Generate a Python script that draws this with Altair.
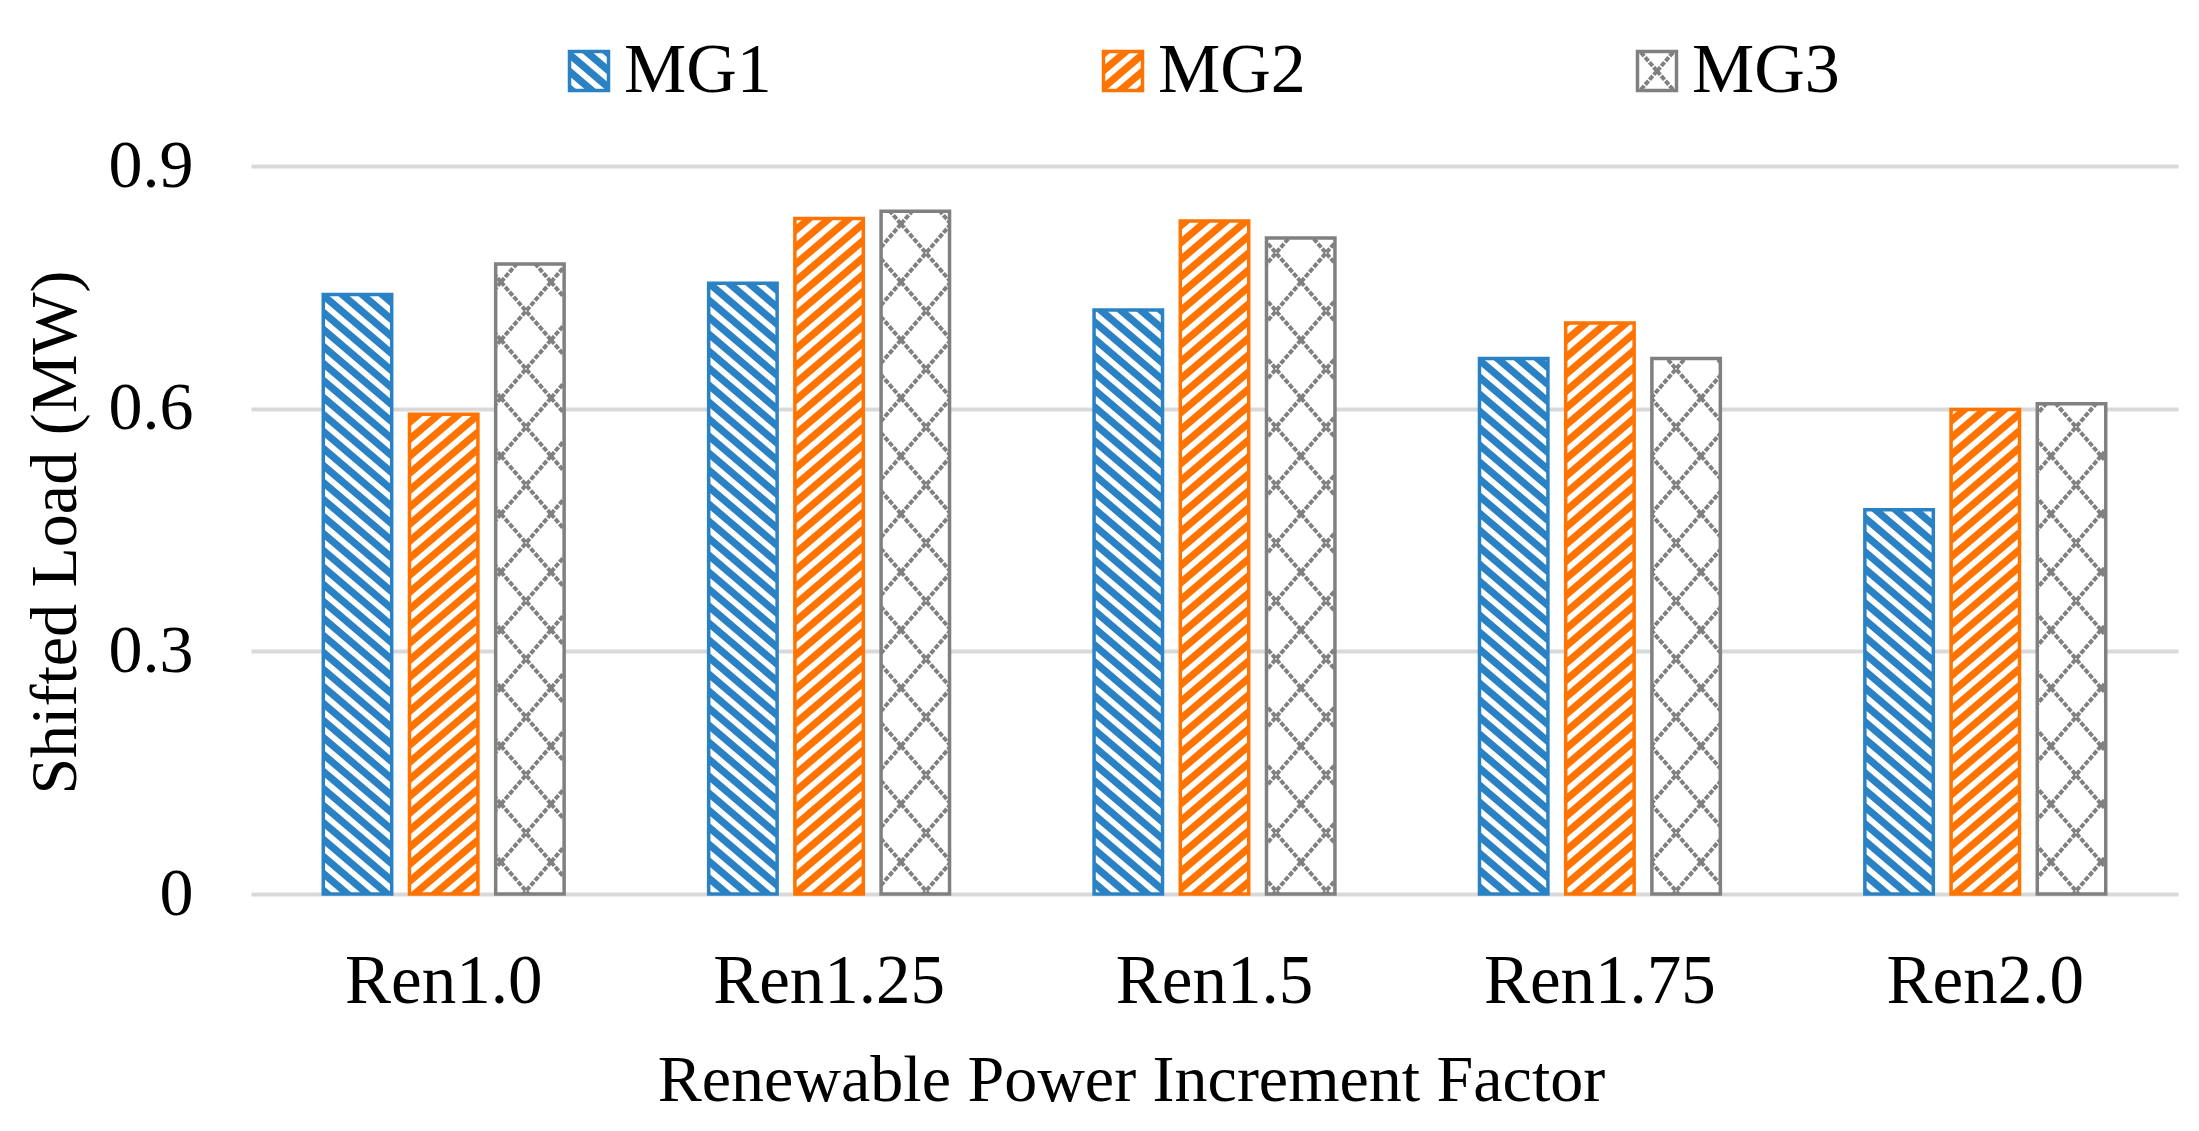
import altair as alt
import pandas as pd

# ---- data ----
categories = ["Ren1.0", "Ren1.25", "Ren1.5", "Ren1.75", "Ren2.0"]
series = ["MG1", "MG2", "MG3"]
mg1 = [0.741, 0.755, 0.722, 0.662, 0.475]
mg2 = [0.593, 0.835, 0.832, 0.706, 0.599]
mg3 = [0.779, 0.844, 0.811, 0.662, 0.606]
y_ticks = [0, 0.3, 0.6, 0.9]

stroke_colors = ["#2A82C4", "#FF7300", "#808080"]
fill_patterns = ["url(#patMG1)", "url(#patMG2)", "url(#patMG3)"]

rows = []
for s, vals in zip(series, [mg1, mg2, mg3]):
    for c, v in zip(categories, vals):
        rows.append({"Category": c, "Series": s, "Value": v})
df = pd.DataFrame(rows)

FONT = "Liberation Serif"

legend = alt.Legend(
    title=None, orient="none", legendX=303, legendY=-130, direction="horizontal",
    symbolType="square", symbolSize=1521, symbolStrokeWidth=3.5,
    labelFont=FONT, labelFontSize=70, labelColor="#000000", labelOffset=0,
    columnPadding=316, padding=0, labelLimit=400,
)

chart = alt.Chart(df).mark_bar(strokeWidth=3.5).encode(
    x=alt.X(
        "Category:N", sort=categories,
        scale=alt.Scale(paddingInner=0.375, paddingOuter=0.1875),
        axis=alt.Axis(
            title="Renewable Power Increment Factor", labelAngle=0,
            labelFont=FONT, labelFontSize=69, labelColor="#000000", labelLimit=500,
            labelBaseline="alphabetic", labelPadding=108,
            ticks=False, domain=False, grid=False,
            titleFont=FONT, titleFontSize=66, titleFontWeight="normal", titleColor="#000000",
            titleX=880, titleY=206, titleBaseline="alphabetic", titleAlign="center",
            titleLimit=2000,
        ),
    ),
    xOffset=alt.XOffset("Series:N", sort=series,
                        scale=alt.Scale(paddingInner=0.206, paddingOuter=0.0)),
    y=alt.Y(
        "Value:Q",
        scale=alt.Scale(domain=[0, 0.9], nice=False),
        axis=alt.Axis(
            title="Shifted Load (MW)", values=y_ticks,
            labelExpr="datum.value == 0 ? '0' : format(datum.value, '.1f')",
            labelFont=FONT, labelFontSize=68, labelColor="#000000",
            labelPadding=58, labelBaseline="middle",
            ticks=False, domain=False, grid=True,
            gridColor="#D9D9D9", gridWidth=4,
            titleFont=FONT, titleFontSize=66, titleFontWeight="normal", titleColor="#000000",
            titleAngle=270, titleX=-176, titleY=366,
            titleBaseline="alphabetic", titleAlign="center", titleLimit=2000,
        ),
    ),
    fill=alt.Fill("Series:N", scale=alt.Scale(domain=series, range=fill_patterns), legend=legend),
    stroke=alt.Stroke("Series:N", scale=alt.Scale(domain=series, range=stroke_colors), legend=legend),
).properties(
    width=1927, height=728,
    autosize=alt.AutoSizeParams(type="none"),
    padding={"left": 243, "top": 158, "right": 10, "bottom": 224},
).configure(font=FONT).configure_view(stroke=None)

# hatch patterns referenced by the bar fills
W1, H1 = 20, 17
def stripes(color, mirror, q=0.28):
    w, h = W1, H1
    polys = [
        [(0, 0), (q * w, 0), (w, (1 - q) * h), (w, h), ((1 - q) * w, h), (0, q * h)],
        [((1 - q) * w, 0), (w, 0), (w, q * h)],
        [(0, (1 - q) * h), (0, h), (q * w, h)],
    ]
    out = []
    for p in polys:
        pts = " ".join(f"{(w - x) if mirror else x:.2f},{y:.2f}" for x, y in p)
        out.append(f'<polygon points="{pts}" fill="{color}"/>')
    return "".join(out)

DEFS = (
    f'<pattern id="patMG1" patternUnits="userSpaceOnUse" width="{W1}" height="{H1}">'
    f'<rect width="{W1}" height="{H1}" fill="#ffffff"/>{stripes(stroke_colors[0], False)}</pattern>'
    f'<pattern id="patMG2" patternUnits="userSpaceOnUse" width="{W1}" height="{H1}">'
    f'<rect width="{W1}" height="{H1}" fill="#ffffff"/>{stripes(stroke_colors[1], True)}</pattern>'
    '<pattern id="patMG3" patternUnits="userSpaceOnUse" width="50" height="58">'
    '<rect width="50" height="58" fill="#ffffff"/>'
    f'<path d="M0,0 L50,58 M50,0 L0,58" stroke="{stroke_colors[2]}" stroke-width="4" '
    'stroke-dasharray="5,1.5" fill="none"/></pattern>'
)

try:
    import jinja2
    TEMPLATE = jinja2.Template("""<!DOCTYPE html>
<html>
<head>
  <meta charset="utf-8">
  <style>
    #{{ output_div }}.vega-embed { width: 100%; display: flex; }
  </style>
  <script type="text/javascript" src="{{ base_url }}/vega@{{ vega_version }}"></script>
  <script type="text/javascript" src="{{ base_url }}/vega-lite@{{ vegalite_version }}"></script>
  <script type="text/javascript" src="{{ base_url }}/vega-embed@{{ vegaembed_version }}"></script>
</head>
<body>
  <svg width="0" height="0" style="position:absolute"><defs>""" + DEFS + """</defs></svg>
  <div id="{{ output_div }}"></div>
  <script>
    (function(vegaEmbed) {
      var spec = {{ spec }};
      var embedOpt = {{ embed_options }};
      vegaEmbed("#{{ output_div }}", spec, embedOpt).catch(function(err) {
        document.getElementById("{{ output_div }}").innerHTML = String(err);
      });
    })(vegaEmbed);
  </script>
</body>
</html>""")
    chart.save("out.html", embed_options={"renderer": "svg", "actions": False}, template=TEMPLATE)
except Exception:
    chart.save("out.html", embed_options={"renderer": "svg", "actions": False})
